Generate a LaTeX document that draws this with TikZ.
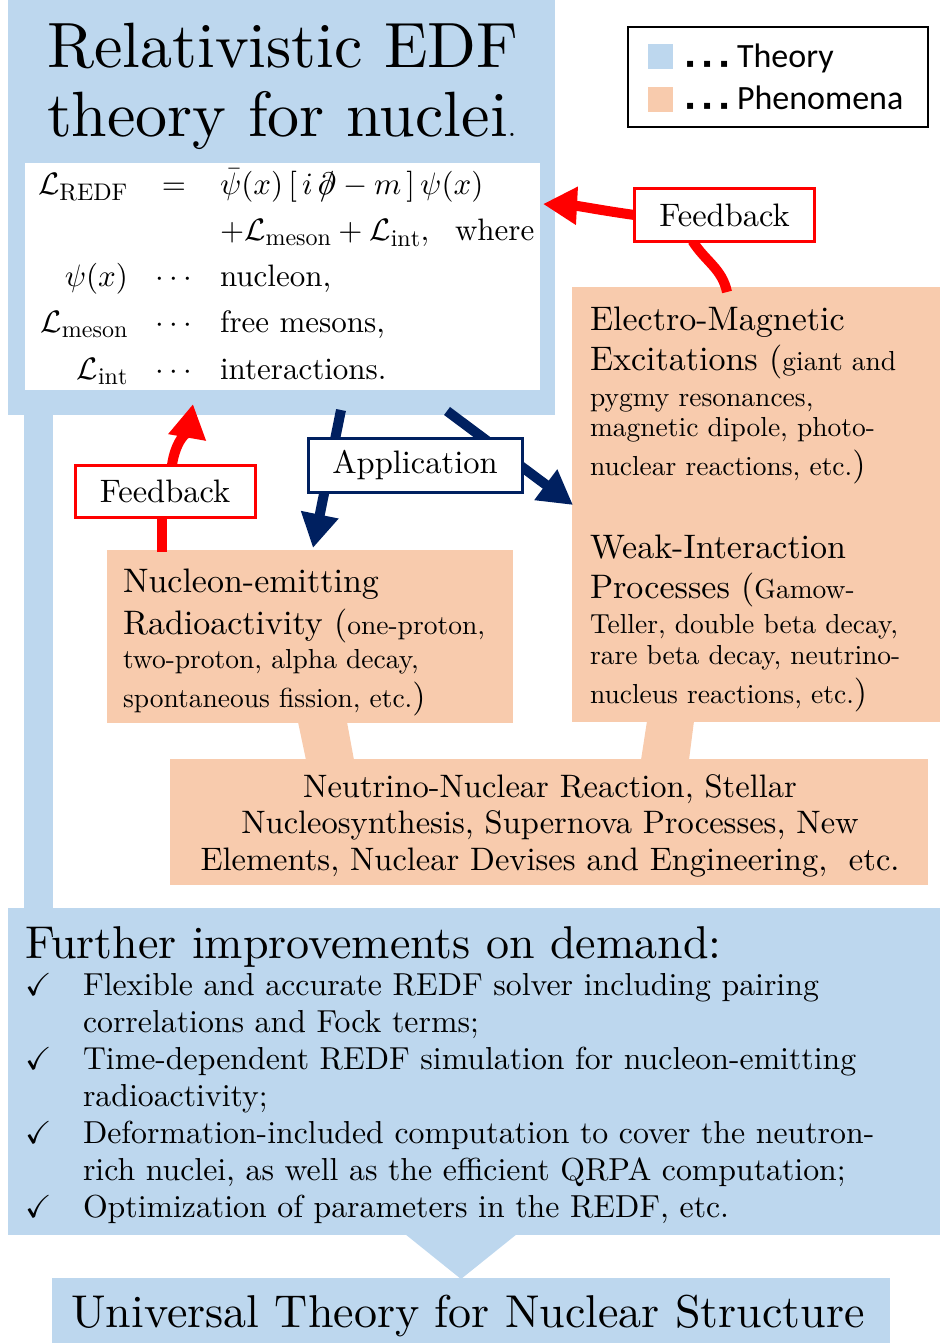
\documentclass[tikz,border=0pt]{standalone}
\usepackage{amssymb}
\usepackage{fontspec}
\setmainfont{lmroman10-regular.otf}[BoldFont=lmroman10-bold.otf, ItalicFont=lmroman10-italic.otf]
\newfontfamily\carlito{Carlito}
\newfontfamily\dejavu{DejaVu Sans}
\DeclareFontShape{OML}{cmm}{m}{it}{<->cmmi10}{}
\DeclareFontShape{OMS}{cmsy}{m}{n}{<->cmsy10}{}
\DeclareFontShape{OMX}{cmex}{m}{n}{<->cmex10}{}
\DeclareFontShape{OT1}{cmr}{m}{n}{<->cmr10}{}
\usetikzlibrary{arrows.meta}
\definecolor{thblue}{HTML}{BDD7EE}
\definecolor{phorange}{HTML}{F8CBAD}
\definecolor{navyblue}{HTML}{002060}
\DeclareMathSizes{31}{31}{24}{18}
\newcommand{\fsz}[1]{\fontsize{#1}{#1}\selectfont}
\newcommand{\bigf}{\fsz{34}}
\newcommand{\smallf}{\fsz{27.5}}
\newcommand{\legdot}{\makebox[17pt][l]{\dejavu\fsz{12}▪}}
\newcommand{\dslash}{\mathord{\mbox{\ooalign{$\partial$\cr\hidewidth$/$\hidewidth\cr}}}}
\tikzset{
  area/.style={inner sep=0pt, outer sep=0pt, anchor=north west},
  theory/.style={area, fill=thblue},
  phen/.style={area, fill=phorange},
  txt/.style={inner sep=0pt, outer sep=0pt, anchor=base west},
  ctxt/.style={inner sep=0pt, outer sep=0pt, anchor=base},
  fbline/.style={draw=red, line width=10pt},
  apline/.style={draw=navyblue, line width=10pt},
  bigtip/.style={-{Triangle[length=34pt,width=36pt]}},
  labelbox/.style={line width=3pt, fill=white, inner sep=0pt, outer sep=0pt, font=\fsz{32.5}},
  fblabel/.style={labelbox, draw=red, minimum width=180pt, minimum height=52pt},
  aplabel/.style={labelbox, draw=navyblue, minimum width=214pt, minimum height=54pt},
  item/.style={txt, font=\fsz{31.8}},
}
\begin{document}
\begin{tikzpicture}[x=1pt,y=-1pt]
\useasboundingbox (0,0) rectangle (940,1343);
% ---------- phenomena areas ----------
\node[phen, minimum width=368pt, minimum height=435pt] (em) at (572,287) {};
\node[phen, minimum width=406pt, minimum height=173pt] (nuc) at (107,550) {};
\node[phen, minimum width=758pt, minimum height=126pt] (astro) at (170,759) {};
\fill[phorange] (298,722) -- (347,722) -- (354,760) -- (306,760) -- cycle;
\fill[phorange] (647,721) -- (694,721) -- (689,760) -- (641,760) -- cycle;
% ---------- theory areas ----------
\node[theory, minimum width=547pt, minimum height=415pt] (top) at (8,0) {};
\fill[thblue] (24,414) rectangle (53,909);
\node[theory, minimum width=932pt, minimum height=327pt] (further) at (8,908) {};
\fill[thblue] (405,1234) -- (517,1234) -- (461,1279) -- cycle;
\node[theory, minimum width=838pt, minimum height=65pt] (univ) at (52,1278) {};
\node[area, fill=white, minimum width=515pt, minimum height=227pt] (wb) at (25,163) {};
% ---------- legend ----------
\node[area, draw=black, line width=2pt, minimum width=300pt, minimum height=100pt] (leg) at (628,27) {};
\node[area, fill=thblue, minimum size=25pt] (sqT) at (648,44) {};
\node[area, fill=phorange, minimum size=25pt] (sqP) at (648,87) {};
\node[txt, font=\carlito\fsz{34}] (legT) at (686,68) {\legdot\legdot\legdot Theory};
\node[txt, font=\carlito\fsz{34}] (legP) at (686,110) {\legdot\legdot\legdot Phenomena};
% ---------- connectors ----------
\coordinate (emtop) at (727,292);
\coordinate (tipR) at (543,204);
\coordinate (nuctop) at (162,552);
\coordinate (tipL) at (193,404);
\coordinate (apL0) at (341,410);
\coordinate (apLtip) at (313,548);
\coordinate (apR0) at (447,411);
\coordinate (apRtip) at (573,505);
\node[fblabel] (fbR) at (724.5,215) {};
\node[fblabel] (fbL) at (165,491) {};
\node[aplabel] (ap) at (415,465) {};
\draw[fbline] (emtop) to[out=102,in=-58] ([xshift=-32pt]fbR.south);
\draw[fbline, bigtip] (fbR.west) to[out=172,in=-3] (tipR);
\draw[fbline] (nuctop) -- ([xshift=-3pt]fbL.south);
\draw[fbline, bigtip] ([xshift=7pt]fbL.north) to[out=82,in=-100] (tipL);
\draw[apline, bigtip] (apL0) -- (apLtip);
\draw[apline, bigtip] (apR0) -- (apRtip);
% labels on top of the connectors
\node[fblabel] (fbRt) at (fbR) {Feedback};
\node[fblabel] (fbLt) at (fbL) {Feedback};
\node[aplabel] (apt) at (ap) {Application};
% ---------- title ----------
\node[txt, font=\fsz{64}] (t1) at (47,68) {Relativistic EDF};
\node[txt, font=\fsz{64}] (t2) at (47,137) {theory for nuclei{\fsz{30}.}};
% ---------- Lagrangian ----------
\node[txt, font={\fontsize{31}{46}\selectfont}] (lag) at (24,195)
 {\setlength{\arraycolsep}{14pt}$\begin{array}[t]{rcl}
  \mathcal{L}_{\mathrm{REDF}} & = & \bar\psi(x)\,[\,i\,\dslash - m\,]\,\psi(x)\\
   & & {+}\mathcal{L}_{\mathrm{meson}} + \mathcal{L}_{\mathrm{int}},\ \ \mbox{where}\\
  \psi(x) & \cdots & \mbox{nucleon,}\\
  \mathcal{L}_{\mathrm{meson}} & \cdots & \mbox{free mesons,}\\
  \mathcal{L}_{\mathrm{int}} & \cdots & \mbox{interactions.}
 \end{array}$};
% ---------- EM / weak ----------
\node[txt] (em1) at (590,330) {\bigf Electro-Magnetic};
\node[txt] (em2) at (590,370) {\bigf Excitations (\smallf giant and};
\node[txt] (em3) at (590,406) {\smallf pygmy resonances,};
\node[txt] (em4) at (590,436) {\smallf magnetic dipole, photo-};
\node[txt] (em5) at (590,475) {\smallf nuclear reactions, etc.\bigf)};
\node[txt] (wk1) at (590,558) {\bigf Weak-Interaction};
\node[txt] (wk2) at (590,598) {\bigf Processes (\smallf Gamow-};
\node[txt] (wk3) at (590,633) {\smallf Teller, double beta decay,};
\node[txt] (wk4) at (590,664) {\smallf rare beta decay, neutrino-};
\node[txt] (wk5) at (590,703) {\smallf nucleus reactions, etc.\bigf)};
% ---------- nucleon-emitting ----------
\node[txt] (nu1) at (123,592) {\bigf Nucleon-emitting};
\node[txt] (nu2) at (123,634) {\bigf Radioactivity (\smallf one-proton,};
\node[txt] (nu3) at (123,668) {\smallf two-proton, alpha decay,};
\node[txt] (nu4) at (123,707) {\smallf spontaneous fission, etc.\bigf)};
% ---------- astro ----------
\node[ctxt, font=\fsz{32.5}] (as1) at (550,797) {Neutrino-Nuclear Reaction, Stellar};
\node[ctxt, font=\fsz{32.5}] (as2) at (550,833) {Nucleosynthesis, Supernova Processes, New};
\node[ctxt, font=\fsz{32.5}] (as3) at (550,870) {Elements, Nuclear Devises and Engineering,\ \ etc.};
% ---------- further improvements ----------
\node[txt, font=\fsz{46}] (fi) at (25,958) {Further improvements on demand:};
\node[item] (ck1) at (25,995) {$\checkmark$};
\node[item] (ck2) at (25,1069) {$\checkmark$};
\node[item] (ck3) at (25,1143) {$\checkmark$};
\node[item] (ck4) at (25,1217) {$\checkmark$};
\node[item] (it1) at (83,995) {Flexible and accurate REDF solver including pairing};
\node[item] (it1b) at (83,1032) {correlations and Fock terms;};
\node[item] (it2) at (83,1069) {Time-dependent REDF simulation for nucleon-emitting};
\node[item] (it2b) at (83,1106) {radioactivity;};
\node[item] (it3) at (83,1143) {Deformation-included computation to cover the neutron-};
\node[item] (it3b) at (83,1180) {rich nuclei, as well as the efficient QRPA computation;};
\node[item] (it4) at (83,1217) {Optimization of parameters in the REDF, etc.};
% ---------- universal ----------
\node[ctxt, font=\fsz{46}] (ut) at (468,1327) {Universal Theory for Nuclear Structure};
\end{tikzpicture}
\end{document}
